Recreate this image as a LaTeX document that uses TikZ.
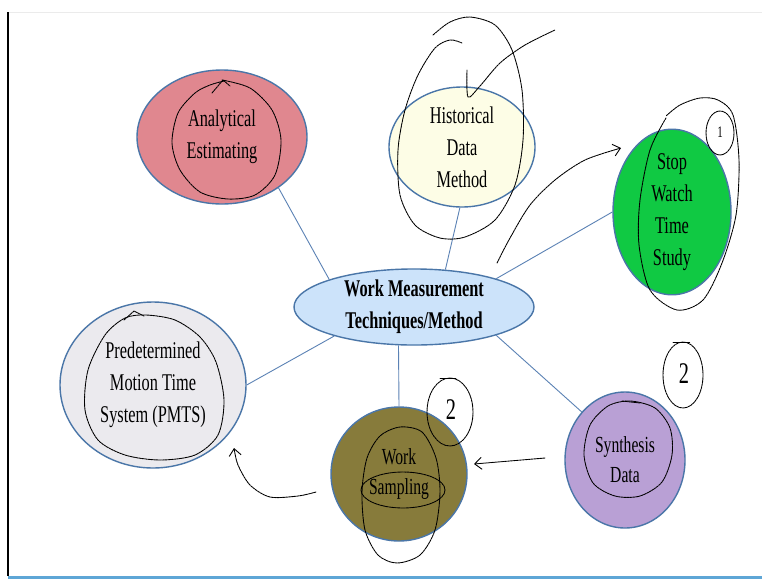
\documentclass[tikz,border=0pt]{standalone}
\usepackage{fontspec}
\usetikzlibrary{shapes.geometric,arrows.meta}
\newfontfamily\nf[FakeStretch=0.68]{Liberation Serif}
\definecolor{edge}{HTML}{4A76A8}
\definecolor{conn}{HTML}{5B82B5}
\definecolor{anaf}{HTML}{E0878F}
\definecolor{hisf}{HTML}{FDFDE6}
\definecolor{stopf}{HTML}{10C943}
\definecolor{cenf}{HTML}{CCE3FA}
\definecolor{pmtsf}{HTML}{EBEAEE}
\definecolor{wsf}{HTML}{877B3B}
\definecolor{synf}{HTML}{B9A0D5}
\definecolor{bluebar}{HTML}{5EA6D6}
\tikzset{
  bubble/.style={ellipse, draw=edge, line width=1.4pt, inner sep=0pt, align=center,
    font=\nf\fontsize{24}{32}\selectfont},
  conline/.style={draw=conn, line width=0.9pt},
  hand/.style={black, line width=0.9pt, line cap=round, line join=round, dash pattern=on 2.2pt off 0.7pt},
  handarrow/.style={hand, -{Straight Barb[length=7pt,width=12pt]}},
  handtext/.style={font=\nf\fontsize{30}{30}\selectfont, inner sep=0pt}
}
\begin{document}
\begin{tikzpicture}[x=1pt,y=-1pt]
\useasboundingbox (0,0) rectangle (762,579);
\fill[white] (0,0) rectangle (762,579);
% frame
\draw[black!8, line width=0.8pt] (8,12) -- (762,12);
\draw[black, line width=2pt] (8,12) -- (8,576);
\draw[bluebar, line width=3pt] (8,577) -- (762,577);

% nodes
\node[bubble, fill=cenf, minimum width=240pt, minimum height=76pt] (cen) at (414,307)
  {\bfseries Work Measurement\\\bfseries Techniques/Method};
\node[bubble, fill=anaf, minimum width=170pt, minimum height=134pt] (ana) at (222,137)
  {Analytical\\Estimating};
\node[bubble, fill=hisf, minimum width=146pt, minimum height=120pt] (his) at (462,147)
  {Historical\\Data\\Method};
\node[bubble, fill=stopf, minimum width=118pt, minimum height=134pt] (stop) at (672,212)
  {Stop\\Watch\\Time\\Study};
\node[bubble, fill=pmtsf, minimum width=186pt, minimum height=166pt] (pmts) at (153,385)
  {Predetermined\\Motion Time\\System (PMTS)};
\node[bubble, fill=wsf, minimum width=136pt, minimum height=134pt,
  font=\nf\fontsize{23}{30}\selectfont] (ws) at (399,474)
  {Work\\Sampling};
\node[bubble, fill=synf, minimum width=120pt, minimum height=136pt,
  font=\nf\fontsize{23}{30}\selectfont] (syn) at (625,460)
  {Synthesis\\Data};

% connectors
\draw[conline] (ana.-42) -- (cen.162);
\draw[conline] (his.-92) -- (cen.50);
\draw[conline] (stop.180) -- (cen.19);
\draw[conline] (pmts.0) -- (cen.200);
\draw[conline] (ws.north) -- (cen.-112);
\draw[conline] (syn.132) -- (cen.-19);

% hand-drawn annotations
% Analytical loop
\draw[hand] plot[smooth] coordinates {(222,80) (250,88) (272,110) (281,140) (275,175) (255,195) (228,199) (200,192) (180,170) (172,143) (178,113) (195,93) (210,85) (224,81)};
\draw[hand] (212,93) -- (223,80) -- (230,86);
% Historical spiral
\draw[hand] plot[smooth] coordinates {(433,35) (450,22) (470,17) (495,25) (512,50) (522,90) (523,140) (515,185) (495,220) (465,237) (440,238) (415,225) (400,195) (398,150) (405,110) (418,75) (435,48) (450,40) (462,43)};
\draw[hand] plot[smooth] coordinates {(467,70) (468,97) (480,86) (500,63) (525,45) (555,30)};
% arrow to Stop Watch
\draw[handarrow] plot[smooth] coordinates {(497,263) (510,238) (530,205) (555,180) (585,160) (621,148)};
% Stop watch loop
\draw[hand] plot[smooth] coordinates {(666,118) (650,150) (640,200) (639,245) (650,290) (677,310) (703,300) (722,263) (736,215) (739,160) (733,115) (718,100) (700,98) (680,105) (666,116)};
\draw[hand] (720,133) ellipse (14 and 22);
\node[handtext, font=\nf\fontsize{16}{16}\selectfont] (one) at (720,132) {1};
% PMTS loop
\draw[hand] plot[smooth cycle] coordinates {(146,315) (175,320) (200,337) (216,362) (224,400) (218,435) (195,455) (160,460) (125,455) (98,440) (85,410) (88,370) (105,335) (125,318)};
\draw[hand] (124,320) -- (134,311) -- (144,316);
% Work sampling loops
\draw[hand] plot[smooth cycle] coordinates {(400,427) (422,432) (436,458) (440,492) (435,530) (420,555) (397,563) (378,555) (365,530) (362,492) (367,458) (380,436)};
\draw[hand] (403,490) ellipse (42 and 18);
\draw[hand] (450,412) ellipse (23 and 34);
\draw[hand] (440,378) -- (456,378);
\node[handtext] (two1) at (451,410) {2};
% arrow from Work Sampling to PMTS
\draw[handarrow] plot[smooth] coordinates {(316,492) (298,496) (270,497) (250,485) (238,465) (234,448)};
% arrow from Synthesis to Work Sampling
\draw[handarrow] (545,458) -- (474,464);
% Synthesis loops
\draw[hand] plot[smooth cycle] coordinates {(630,401) (655,408) (670,428) (672,455) (662,482) (640,496) (615,496) (593,483) (584,455) (590,425) (608,406)};
\draw[hand] (622,401) -- (640,403);
\draw[hand] (683,375) ellipse (20 and 33);
\draw[hand] (673,342) -- (690,342);
\node[handtext] (two2) at (684,374) {2};
\end{tikzpicture}
\end{document}
